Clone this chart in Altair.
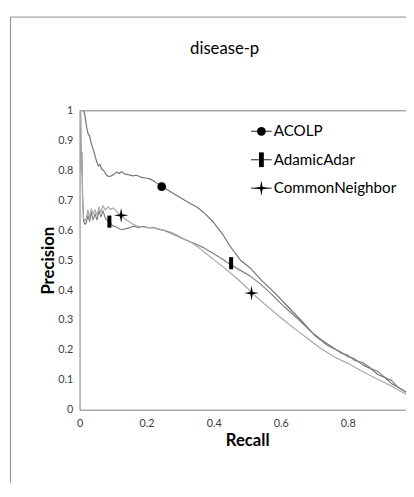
import altair as alt
import pandas as pd

series = ["ACOLP", "AdamicAdar", "CommonNeighbor"]
colors = ["#737373", "#7f7f7f", "#a8a8a8"]

acolp_x = [0.012, 0.015, 0.018, 0.021, 0.025, 0.030, 0.035, 0.041, 0.046, 0.051, 0.056, 0.061,
           0.066, 0.072, 0.080, 0.087, 0.095, 0.103, 0.111, 0.118, 0.126, 0.135, 0.146, 0.158,
           0.170, 0.182, 0.196, 0.210, 0.225, 0.245, 0.270, 0.300, 0.330, 0.350, 0.375, 0.400,
           0.425, 0.450, 0.480, 0.510, 0.545, 0.580, 0.620, 0.660, 0.700, 0.740, 0.780, 0.800,
           0.820, 0.845, 0.870, 0.890, 0.910, 0.930, 0.950, 0.975, 1.000]
acolp_y = [1.000, 0.990, 0.970, 0.945, 0.925, 0.915, 0.890, 0.870, 0.850, 0.830, 0.815, 0.820,
           0.805, 0.800, 0.785, 0.780, 0.782, 0.788, 0.795, 0.790, 0.796, 0.788, 0.786, 0.782,
           0.784, 0.778, 0.775, 0.772, 0.762, 0.747, 0.730, 0.710, 0.690, 0.678, 0.655, 0.626,
           0.590, 0.545, 0.500, 0.473, 0.430, 0.393, 0.346, 0.300, 0.250, 0.215, 0.192, 0.178,
           0.170, 0.150, 0.136, 0.118, 0.108, 0.088, 0.075, 0.058, 0.040]

aa_x = [0.003, 0.005, 0.007, 0.009, 0.012, 0.016, 0.020, 0.025, 0.030, 0.035, 0.040, 0.046,
        0.052, 0.058, 0.064, 0.070, 0.077, 0.084, 0.091, 0.098, 0.106, 0.115, 0.125, 0.136,
        0.148, 0.160, 0.175, 0.190, 0.205, 0.220, 0.235, 0.250, 0.265, 0.280, 0.300, 0.320,
        0.345, 0.370, 0.395, 0.420, 0.450, 0.480, 0.510, 0.540, 0.570, 0.610, 0.650, 0.690,
        0.720, 0.750, 0.780, 0.800, 0.820, 0.845, 0.870, 0.890, 0.910, 0.930, 0.950, 0.970, 1.000]
aa_y = [1.000, 0.800, 0.860, 0.720, 0.630, 0.620, 0.625, 0.650, 0.630, 0.660, 0.635, 0.655,
        0.635, 0.665, 0.645, 0.665, 0.640, 0.632, 0.628, 0.615, 0.613, 0.608, 0.602, 0.605,
        0.608, 0.614, 0.610, 0.613, 0.608, 0.610, 0.604, 0.600, 0.594, 0.587, 0.576, 0.566,
        0.555, 0.542, 0.525, 0.508, 0.486, 0.466, 0.446, 0.420, 0.389, 0.345, 0.305, 0.262,
        0.235, 0.212, 0.190, 0.182, 0.165, 0.158, 0.138, 0.128, 0.108, 0.098, 0.075, 0.062, 0.040]

cn_x = [0.003, 0.005, 0.007, 0.009, 0.012, 0.016, 0.020, 0.025, 0.030, 0.035, 0.040, 0.046,
        0.052, 0.058, 0.064, 0.070, 0.077, 0.085, 0.093, 0.101, 0.109, 0.117, 0.125, 0.135,
        0.146, 0.158, 0.170, 0.185, 0.200, 0.220, 0.240, 0.260, 0.280, 0.300, 0.320, 0.340,
        0.360, 0.380, 0.400, 0.430, 0.460, 0.490, 0.520, 0.550, 0.580, 0.610, 0.640, 0.680,
        0.720, 0.760, 0.800, 0.840, 0.880, 0.920, 0.960, 1.000]
cn_y = [1.000, 0.790, 0.850, 0.700, 0.640, 0.630, 0.640, 0.668, 0.645, 0.672, 0.655, 0.668,
        0.650, 0.678, 0.660, 0.682, 0.668, 0.678, 0.670, 0.675, 0.665, 0.655, 0.650, 0.638,
        0.630, 0.622, 0.615, 0.612, 0.610, 0.608, 0.603, 0.598, 0.590, 0.578, 0.567, 0.555,
        0.538, 0.520, 0.502, 0.476, 0.448, 0.418, 0.385, 0.355, 0.327, 0.299, 0.272, 0.238,
        0.205, 0.176, 0.155, 0.130, 0.107, 0.085, 0.060, 0.038]

marker_series = ["ACOLP", "AdamicAdar", "AdamicAdar", "CommonNeighbor", "CommonNeighbor"]
marker_x = [0.245, 0.089, 0.452, 0.124, 0.513]
marker_y = [0.746, 0.629, 0.490, 0.650, 0.390]

y_ticks = [0, 0.1, 0.2, 0.3, 0.4, 0.5, 0.6, 0.7, 0.8, 0.9, 1]
x_ticks = [0, 0.2, 0.4, 0.6, 0.8, 1]

rows = []
for name, xs, ys in [("ACOLP", acolp_x, acolp_y), ("AdamicAdar", aa_x, aa_y),
                     ("CommonNeighbor", cn_x, cn_y)]:
    for i, (xv, yv) in enumerate(zip(xs, ys)):
        rows.append({"series": name, "recall": xv, "precision": yv, "idx": i})
df = pd.DataFrame(rows)
mdf = pd.DataFrame({"series": marker_series, "recall": marker_x, "precision": marker_y})

W, H = 342, 305
FONT = "Lato"

shape_paths = [
    "circle",
    "M-0.33,-1L0.33,-1L0.33,1L-0.33,1Z",
    "M0,-1L0.16,-0.16L1,0L0.16,0.16L0,1L-0.16,0.16L-1,0L-0.16,-0.16Z",
]
shape_sizes = [80, 225, 240]

xscale = alt.Scale(domain=[0, 1], nice=False, zero=False)
yscale = alt.Scale(domain=[0, 1], nice=False, zero=False)

xaxis = alt.Axis(values=x_ticks, format=".1~f", grid=False, ticks=False, labelPadding=8,
                 labelOverlap=False, labelFlush=False,
                 domainColor="#8c8c8c", labelColor="#404040", labelFont=FONT, labelFontSize=11,
                 title="Recall", titleFont=FONT, titleFontSize=17, titleFontWeight="bold",
                 titleColor="#000000", titlePadding=5)
yaxis = alt.Axis(values=y_ticks, format=".1~f", grid=False, ticks=False, labelPadding=7,
                 labelOverlap=False, labelFlush=False,
                 domainColor="#8c8c8c", labelColor="#404040", labelFont=FONT, labelFontSize=11,
                 title="Precision", titleFont=FONT, titleFontSize=17, titleFontWeight="bold",
                 titleColor="#000000", titlePadding=0)

lines = alt.Chart(df).mark_line(strokeWidth=1.2, strokeJoin="round").encode(
    x=alt.X("recall:Q", scale=xscale, axis=xaxis),
    y=alt.Y("precision:Q", scale=yscale, axis=yaxis),
    color=alt.Color("series:N", scale=alt.Scale(domain=series, range=colors), legend=None),
    order="idx:Q",
)

markers = alt.Chart(mdf).mark_point(filled=True, color="black", opacity=1).encode(
    x=alt.X("recall:Q", scale=xscale, axis=xaxis),
    y=alt.Y("precision:Q", scale=yscale, axis=yaxis),
    shape=alt.Shape("series:N", scale=alt.Scale(domain=series, range=shape_paths), legend=None),
    size=alt.Size("series:N", scale=alt.Scale(domain=series, range=shape_sizes), legend=None),
)

top_rule = alt.Chart().mark_rule(color="#8c8c8c", strokeWidth=1).encode(
    x=alt.value(0), x2=alt.value(W), y=alt.value(0))

frame = alt.Chart().mark_rect(fill="transparent", stroke="#8c8c8c", strokeWidth=1).encode(
    x=alt.value(-70.5), x2=alt.value(W + 20), y=alt.value(-95.5), y2=alt.value(H + 120))

title = alt.Chart().mark_text(font=FONT, fontSize=17, color="#000000", align="center",
                              baseline="middle").encode(
    x=alt.value(148), y=alt.value(-63), text=alt.value("disease-p"))

legend_layers = []
leg_top = 21
for i, name in enumerate(series):
    yy = leg_top + i * 29
    legend_layers.append(alt.Chart().mark_rule(color="#404040", strokeWidth=1.2).encode(
        x=alt.value(175), x2=alt.value(196), y=alt.value(yy)))
    legend_layers.append(alt.Chart().mark_point(filled=True, color="black", opacity=1,
                                                shape=shape_paths[i], size=shape_sizes[i]).encode(
        x=alt.value(185.5), y=alt.value(yy)))
    legend_layers.append(alt.Chart().mark_text(font=FONT, fontSize=15.5, color="#000000",
                                               align="left", baseline="middle").encode(
        x=alt.value(198), y=alt.value(yy), text=alt.value(name)))

chart = alt.layer(frame, top_rule, lines, markers, title, *legend_layers).properties(
    width=W, height=H,
    autosize=alt.AutoSizeParams(type="none"),
    padding={"left": 73, "top": 100, "right": -9, "bottom": 70},
).configure_view(stroke=None).configure(background="white")

chart.save("out.html", embed_options={"renderer": "svg", "actions": False})
